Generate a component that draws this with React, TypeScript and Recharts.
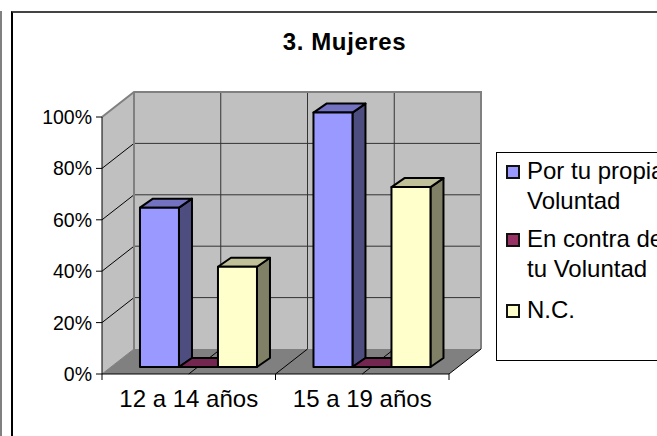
import React from "react";
import { BarChart, Bar, XAxis, YAxis, Legend, Customized, usePlotArea } from "recharts";

const categories = ["12 a 14 años", "15 a 19 años"];
const porTuPropia = [62, 99];
const enContra = [0, 0];
const noContesta = [39, 70];
const yTicks = [0, 20, 40, 60, 80, 100];

const seriesNames = ["Por tu propia Voluntad", "En contra de tu Voluntad", "N.C."];

const rows = categories.map((name, i) => ({
  name,
  propia: porTuPropia[i],
  contra: enContra[i],
  nc: noContesta[i],
}));

const FONT = "'Liberation Sans', Arial, sans-serif";
const WALL_DX = 32;
const WALL_DY = 25;
const BAR_SHIFT_X = 9;
const BAR_SHIFT_Y = 7;
const BAR_DX = 13;
const BAR_DY = 9;

// back wall, side wall and floor sit behind the bars
const Walls = () => {
  const area = usePlotArea();
  if (!area) return null;
  const { x, y, width, height } = area;
  const bottom = y + height;
  const right = x + width;
  const bx = x + WALL_DX;
  const bBottom = bottom - WALL_DY;
  const bTop = y - WALL_DY;
  const step = width / 4;
  return (
    <g>
      <polygon points={`${x},${y} ${bx},${bTop} ${bx},${bBottom} ${x},${bottom}`} fill="#c0c0c0" />
      <rect x={bx} y={bTop} width={width} height={height} fill="#c0c0c0" />
      <polygon
        points={`${x},${bottom} ${right},${bottom} ${right + WALL_DX},${bBottom} ${bx},${bBottom}`}
        fill="#808080"
      />
      {[1, 2, 3].map((i) => (
        <g key={i}>
          <line x1={x + step * i} y1={bottom} x2={bx + step * i} y2={bBottom} stroke="#000" />
          <line x1={bx + step * i} y1={bBottom} x2={bx + step * i} y2={bTop} stroke="#333" />
        </g>
      ))}
      {[0.2, 0.4, 0.6, 0.8].map((f) => (
        <g key={f}>
          <line x1={x} y1={bottom - height * f} x2={bx} y2={bBottom - height * f} stroke="#000" />
          <line x1={bx} y1={bBottom - height * f} x2={bx + width} y2={bBottom - height * f} stroke="#333" />
        </g>
      ))}
      <polyline
        points={`${x},${y} ${bx},${bTop} ${bx + width},${bTop} ${bx + width},${bBottom}`}
        fill="none"
        stroke="#808080"
        strokeWidth={2}
      />
      <line x1={bx} y1={bTop} x2={bx} y2={bBottom} stroke="#808080" strokeWidth={2} />
      <line x1={x} y1={bottom} x2={bx} y2={bBottom} stroke="#808080" />
      <line x1={right} y1={bottom} x2={right + WALL_DX} y2={bBottom} stroke="#000" />
      {[0, 1, 2].map((i) => (
        <line key={i} x1={x + (width / 2) * i} y1={bottom} x2={x + (width / 2) * i} y2={bottom + 6} stroke="#000" />
      ))}
      <text
        x={344.5}
        y={50}
        textAnchor="middle"
        fontFamily={FONT}
        fontSize={24}
        letterSpacing={0.6}
        fontWeight="bold"
        fill="#000"
      >
        3. Mujeres
      </text>
    </g>
  );
};

// front face, side and top of one column
const Box = ({ x, y, width, height, fill, sideFill, topFill }: any) => {
  const left = x + BAR_SHIFT_X;
  const top = y - BAR_SHIFT_Y;
  const right = left + width;
  const base = top + height;
  return (
    <g stroke="#000" strokeWidth={2} strokeLinejoin="round">
      <polygon
        points={`${right},${top} ${right + BAR_DX},${top - BAR_DY} ${right + BAR_DX},${base - BAR_DY} ${right},${base}`}
        fill={sideFill}
      />
      <polygon
        points={`${left},${top} ${left + BAR_DX},${top - BAR_DY} ${right + BAR_DX},${top - BAR_DY} ${right},${top}`}
        fill={topFill}
      />
      <rect x={left} y={top} width={width} height={height} fill={fill} />
    </g>
  );
};

const swatches = ["#9999ff", "#993366", "#ffffcc"];
const rowGaps = [8, 11, 0];

const LegendBox = () => (
  <div
    style={{
      width: 190,
      height: 209,
      boxSizing: "border-box",
      border: "1px solid #000",
      background: "#fff",
      paddingTop: 3,
      fontFamily: FONT,
      fontSize: 24,
      lineHeight: "30px",
      color: "#000",
      textAlign: "left",
    }}
  >
    {seriesNames.map((name, i) => (
      <div key={name} style={{ position: "relative", paddingLeft: 30, width: 145, marginBottom: rowGaps[i] }}>
        <span
          style={{
            position: "absolute",
            left: 9,
            top: 9,
            width: 10,
            height: 10,
            border: "2px solid #111",
            background: swatches[i],
          }}
        />
        {name}
      </div>
    ))}
  </div>
);

export default function App() {
  return (
    <div style={{ position: "absolute", left: 0, top: 0, width: 657, height: 436, overflow: "hidden", background: "#fff" }}>
      <div style={{ position: "absolute", left: 0, top: 11, width: 2, height: 425, background: "#808080" }} />
      <div
        style={{
          position: "absolute",
          left: 11,
          top: 11,
          width: 720,
          height: 480,
          borderLeft: "2px solid #000",
          borderTop: "2px solid #444",
          boxSizing: "border-box",
        }}
      />
      <div style={{ position: "absolute", left: 0, top: 0 }}>
        <BarChart
          width={720}
          height={436}
          data={rows}
          margin={{ top: 117, right: 271, bottom: 0, left: 0 }}
          barCategoryGap="16.7%"
          barGap={0}
        >
          <Customized component={Walls} />
          <XAxis
            dataKey="name"
            height={62}
            axisLine={{ stroke: "#000" }}
            tickLine={false}
            tick={{ fontFamily: FONT, fontSize: 24, fill: "#000" }}
            tickMargin={10}
            interval={0}
          />
          <YAxis
            domain={[0, 100]}
            ticks={yTicks}
            width={102}
            axisLine={{ stroke: "#000" }}
            tickLine={{ stroke: "#000" }}
            tickSize={6}
            tickMargin={4}
            tickFormatter={(v) => `${v}%`}
            tick={{ fontFamily: FONT, fontSize: 19.5, fill: "#000" }}
          />
          <Legend
            content={<LegendBox />}
            layout="horizontal"
            verticalAlign="middle"
            wrapperStyle={{ position: "absolute", left: 496, top: 152, width: 190, height: 209, bottom: "auto" }}
          />
          <Bar
            dataKey="propia"
            name={seriesNames[0]}
            isAnimationActive={false}
            shape={(p: any) => <Box {...p} fill="#9999ff" sideFill="#4d4d80" topFill="#7272c0" />}
          />
          <Bar
            dataKey="contra"
            name={seriesNames[1]}
            isAnimationActive={false}
            shape={(p: any) => <Box {...p} fill="#993366" sideFill="#4d1a33" topFill="#732650" />}
          />
          <Bar
            dataKey="nc"
            name={seriesNames[2]}
            isAnimationActive={false}
            shape={(p: any) => <Box {...p} fill="#ffffcc" sideFill="#808066" topFill="#c0c099" />}
          />
        </BarChart>
      </div>
    </div>
  );
}
